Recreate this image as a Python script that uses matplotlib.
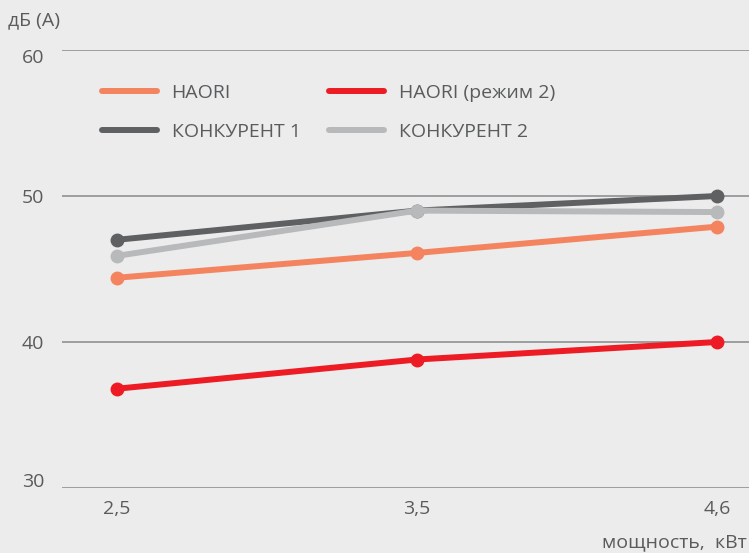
import matplotlib
matplotlib.use("Agg")
import matplotlib.pyplot as plt
from matplotlib.transforms import ScaledTranslation

categories = ["2,5", "3,5", "4,6"]
haori = [44.4, 46.1, 47.9]
haori_mode2 = [36.8, 38.8, 40.0]
competitor1 = [47.0, 49.0, 50.0]
competitor2 = [45.9, 49.0, 48.9]
yticks = [30, 40, 50, 60]

plt.rcParams['font.family'] = ['Open Sans', 'DejaVu Sans']
txt = '#5a5b5d'
bg = '#ebeceb'
FS = 14

fig = plt.figure(figsize=(7.49, 5.53), dpi=100)
fig.patch.set_facecolor(bg)
W, H = 749, 553
ax = fig.add_axes([62 / W, 1 - 488 / H, (W - 62) / W, (488 - 50) / H])
ax.set_facecolor(bg)

x = list(range(len(categories)))
series = [
    ("HAORI", haori, '#f4845f'),
    ("КОНКУРЕНТ 1", competitor1, '#5f6062'),
    ("HAORI (режим 2)", haori_mode2, '#ed1c24'),
    ("КОНКУРЕНТ 2", competitor2, '#b8b9bb'),
]
draw_order = [3, 1, 0, 2]
handles = {}
for i in draw_order:
    name, vals, col = series[i]
    h, = ax.plot(x, vals, color=col, lw=4.3, marker='o', ms=9,
                 solid_capstyle='round', label=name, zorder=3 + i * 0.1)
    handles[i] = h

ax.set_xlim(-0.183, 2.107)
ax.set_ylim(30, 60)
ax.set_yticks(yticks)
ax.set_xticks(x)
ax.set_xticklabels(categories)
ax.tick_params(length=0, labelsize=FS, colors=txt)
ax.tick_params(axis='y', pad=13)
ax.tick_params(axis='x', pad=8.5)
for s in ax.spines.values():
    s.set_visible(False)
ax.grid(axis='y', color='#8f9091', lw=1.2)
ax.grid(axis='x', visible=False)
ax.set_axisbelow(True)

# y tick labels in the reference sit slightly off their gridlines (pixels, up = positive)
offsets_px = {30: 8, 40: 0, 50: 0, 60: -6}
fig.canvas.draw()
for val, lab in zip(yticks, ax.get_yticklabels()):
    dy = offsets_px[val] / 100.0
    lab.set_transform(lab.get_transform() + ScaledTranslation(0, dy, fig.dpi_scale_trans))

leg = ax.legend([handles[i] for i in range(4)], [series[i][0] for i in range(4)],
                ncol=2, frameon=False, fontsize=FS, labelcolor=txt,
                handlelength=2.83, handletextpad=0.77, columnspacing=1.45,
                labelspacing=1.1, loc='upper left',
                bbox_to_anchor=((84 - 62) / (W - 62), 1 - (66 - 50) / (488 - 50)))
for lh in leg.get_lines():
    lh.set_marker('')
    lh.set_linewidth(4.3)

fig.text(8 / W, 1 - 20 / H, "дБ (А)", fontsize=FS, color=txt, va='center', ha='left')
fig.text(1.0 - 2 / W, 1 - 542 / H, "мощность,  кВт", fontsize=FS, color=txt,
         va='center', ha='right')

fig.savefig("out.png", dpi=100, facecolor=bg)
